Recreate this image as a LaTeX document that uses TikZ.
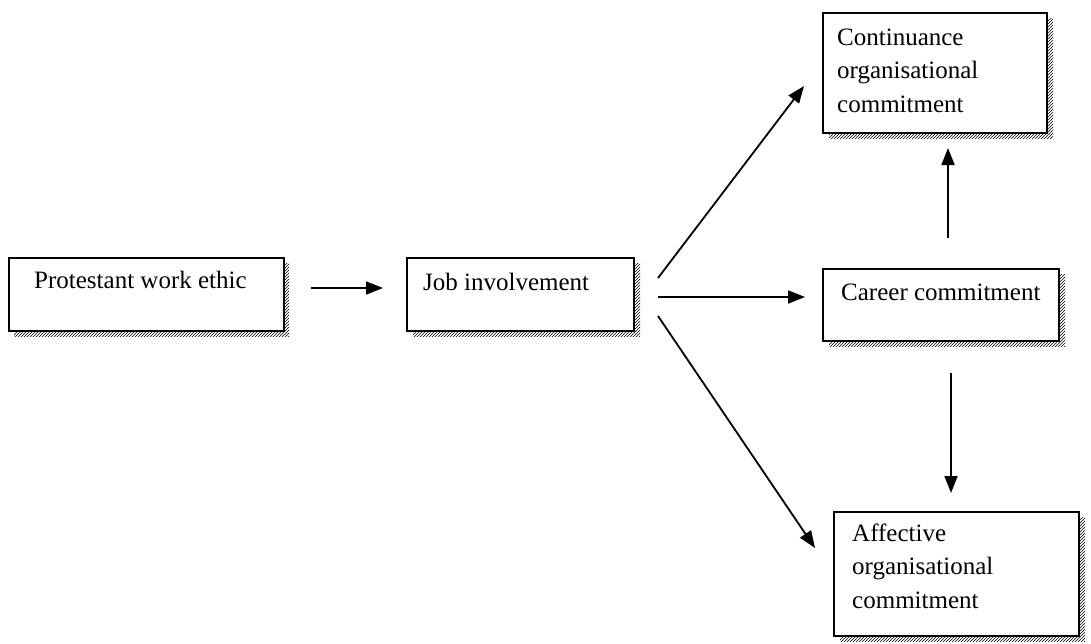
\documentclass[tikz,border=0pt]{standalone}
\usepackage{fontspec}
\setmainfont{Liberation Serif}
\usetikzlibrary{arrows.meta,patterns}
\begin{document}
\begin{tikzpicture}[x=1pt,y=-1pt,
  box/.style={draw,line width=1.8pt,fill=white,inner sep=0pt,anchor=north west},
  shadowbox/.style={fill=black!40,pattern=north east lines,pattern color=black,draw=none,inner sep=0pt,anchor=north west},
  label/.style={anchor=base west,inner sep=0pt,font=\fontsize{25}{33.5}\selectfont,align=left},
  arr/.style={line width=1.8pt,-{Triangle[length=17pt,width=13pt]}}]
\useasboundingbox (0,0) rectangle (1091,643);

% hatched drop shadows, offset down and right
\node[shadowbox,minimum width=275pt,minimum height=73pt] at (14,263) {};
\node[shadowbox,minimum width=227pt,minimum height=73pt] at (413,263) {};
\node[shadowbox,minimum width=224pt,minimum height=120pt] at (829,18) {};
\node[shadowbox,minimum width=236pt,minimum height=72pt] at (829,274) {};
\node[shadowbox,minimum width=245pt,minimum height=124pt] at (840,517) {};

% boxes
\node[box,minimum width=275pt,minimum height=73pt] (P) at (8,257) {};
\node[box,minimum width=227pt,minimum height=73pt] (J) at (406,257) {};
\node[box,minimum width=224pt,minimum height=120pt] (C) at (822,12) {};
\node[box,minimum width=236pt,minimum height=72pt] (K) at (822,268) {};
\node[box,minimum width=245pt,minimum height=124pt] (A) at (833,511) {};

% texts (multi-line labels are placed by the baseline of their last line)
\node[label] (Pt) at (34,288) {Protestant work ethic};
\node[label] (Jt) at (423,290) {Job involvement};
\node[label] (Ct) at (837,112) {Continuance\\organisational\\commitment};
\node[label] (Kt) at (841,300) {Career commitment};
\node[label] (At) at (852,608) {Affective\\organisational\\commitment};

% connector ends
\coordinate (p1) at (311,288);
\coordinate (j1) at (383,288);
\coordinate (jc) at (658,278);
\coordinate (ct) at (804,86);
\coordinate (jk) at (658,297);
\coordinate (kt) at (805,297);
\coordinate (ja) at (658,316);
\coordinate (at) at (815,548);
\coordinate (kc1) at (948,238);
\coordinate (kc2) at (948,148);
\coordinate (ka1) at (951,373);
\coordinate (ka2) at (951,493);

\draw[arr] (p1) -- (j1);
\draw[arr] (jc) -- (ct);
\draw[arr] (jk) -- (kt);
\draw[arr] (ja) -- (at);
\draw[arr] (kc1) -- (kc2);
\draw[arr] (ka1) -- (ka2);
\end{tikzpicture}
\end{document}
